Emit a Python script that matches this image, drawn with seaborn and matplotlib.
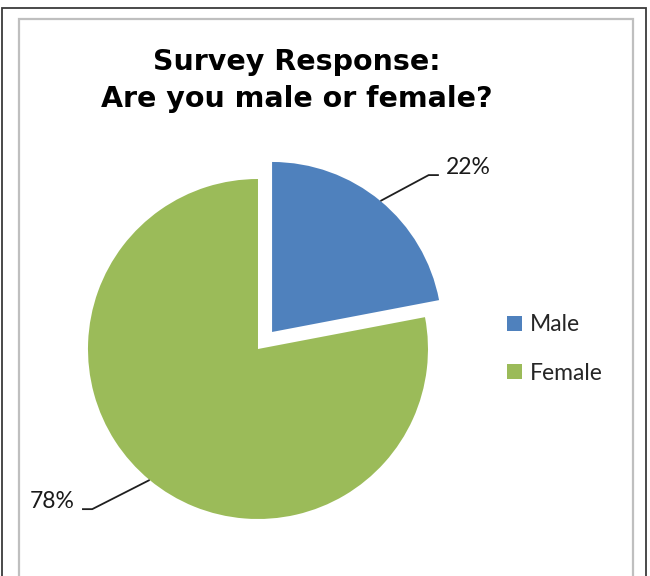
import matplotlib
matplotlib.use('Agg')
import matplotlib.pyplot as plt
import seaborn as sns
import numpy as np
from matplotlib.patches import Rectangle

# survey data
categories = ['Male', 'Female']
shares = [22, 78]
pct_labels = ['22%', '78%']
explode = [0.13, 0]

sns.set_theme(style='white')
palette = sns.color_palette(['#4F81BD', '#9BBB59'])

fig = plt.figure(figsize=(6.5, 5.76), dpi=100)

# chart borders (outer dark frame + inner grey chart area)
fig.add_artist(Rectangle((2 / 650, -0.05), 644 / 650, (568 + 29) / 576,
                         transform=fig.transFigure, fill=False,
                         edgecolor='#3a3a3a', linewidth=1.3))
fig.add_artist(Rectangle((19 / 650, -0.05), 614 / 650, (557 + 29) / 576,
                         transform=fig.transFigure, fill=False,
                         edgecolor='#bfbfbf', linewidth=1.6))

ax = fig.add_axes([0.0569, 0.0104, 0.68, 0.7674])
wedges, _ = ax.pie(shares, colors=palette, startangle=90, counterclock=False,
                   explode=explode, radius=1,
                   wedgeprops=dict(linewidth=0))
ax.set_xlim(-1.3, 1.3)
ax.set_ylim(-1.3, 1.3)
ax.set_aspect('equal')
ax.axis('off')

# data labels with leader lines
label_pos = [(1.105, 1.065), (-1.076, -0.9)]
for w, ex, lab, (tx, ty) in zip(wedges, explode, pct_labels, label_pos):
    mid = np.deg2rad((w.theta1 + w.theta2) / 2)
    cx, cy = ex * np.cos(mid), ex * np.sin(mid)
    sx, sy = cx + np.cos(mid), cy + np.sin(mid)
    side = 1 if tx > 0 else -1
    ly = ty - 0.042
    ex_x = tx - side * 0.041
    el_x = ex_x - side * 0.06
    ax.plot([sx, el_x, ex_x], [sy, ly, ly], color='#1f1f1f', lw=1.3,
            solid_capstyle='butt')
    ax.text(tx, ty, lab, ha='left' if side > 0 else 'right', va='center',
            fontsize=16.5, family='Lato', color='#1a1a1a')

fig.legend(wedges, categories, loc='center left',
           bbox_to_anchor=(507 / 650, 1 - 349 / 576), frameon=False,
           borderpad=0, borderaxespad=0, handlelength=0.65, handleheight=0.65,
           handletextpad=0.35, labelspacing=1.2,
           prop=dict(family='Lato', size=16.5))

fig.text(297 / 650, 1 - 107 / 576, 'Survey Response:\nAre you male or female?',
         ha='center', va='baseline', fontsize=20.5, fontweight='bold',
         family='DejaVu Sans', linespacing=1.4, color='black')

fig.savefig('out.png', dpi=100)
